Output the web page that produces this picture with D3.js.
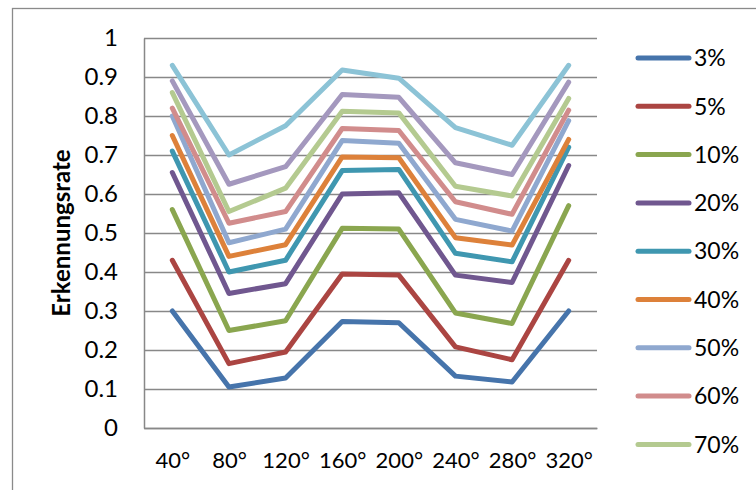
<!DOCTYPE html>
<html>
<head>
<meta charset="utf-8">
<script src="https://cdn.jsdelivr.net/npm/d3@7"></script>
<style>
  body { margin: 0; background: #fff; }
  text { font-family: Lato, "Liberation Sans", sans-serif; fill: #000; }
</style>
</head>
<body>
<script>
//Categories (x axis)
const angles = ["40°", "80°", "120°", "160°", "200°", "240°", "280°", "320°"];
const yTicks = [0, 0.1, 0.2, 0.3, 0.4, 0.5, 0.6, 0.7, 0.8, 0.9, 1];

//Series names
const rateNames = ["3%", "5%", "10%", "20%", "30%", "40%", "50%", "60%", "70%", "80%", "90%"];

//Series values, one per name
const rate3  = [0.30, 0.105, 0.128, 0.273, 0.270, 0.133, 0.118, 0.30];
const rate5  = [0.43, 0.165, 0.195, 0.395, 0.392, 0.208, 0.175, 0.43];
const rate10 = [0.56, 0.250, 0.275, 0.512, 0.510, 0.295, 0.268, 0.57];
const rate20 = [0.655, 0.345, 0.370, 0.600, 0.603, 0.392, 0.373, 0.673];
const rate30 = [0.71, 0.400, 0.430, 0.660, 0.663, 0.448, 0.426, 0.72];
const rate40 = [0.75, 0.440, 0.470, 0.695, 0.693, 0.488, 0.469, 0.74];
const rate50 = [0.80, 0.475, 0.510, 0.737, 0.730, 0.535, 0.505, 0.788];
const rate60 = [0.82, 0.525, 0.555, 0.768, 0.763, 0.580, 0.548, 0.815];
const rate70 = [0.86, 0.555, 0.615, 0.812, 0.808, 0.620, 0.595, 0.845];
const rate80 = [0.89, 0.625, 0.670, 0.855, 0.848, 0.680, 0.650, 0.887];
const rate90 = [0.93, 0.700, 0.775, 0.918, 0.897, 0.770, 0.725, 0.93];

const colors = ["#4674ab", "#ab4542", "#8aa64f", "#70578f", "#3f97b0", "#dd813a",
                "#8fa8cf", "#d18c8c", "#b4ca90", "#a498be", "#8cc3d6"];

const series = [rate3, rate5, rate10, rate20, rate30, rate40, rate50, rate60, rate70, rate80, rate90]
  .map((values, i) => ({name: rateNames[i], color: colors[i], values: values}));

//Plot area
const margin = {top: 38, right: 159, bottom: 62, left: 144};
const width = 756 - margin.left - margin.right;
const height = 490 - margin.top - margin.bottom;

const svg = d3.select("body")
              .append("svg")
              .attr("width", 756)
              .attr("height", 490);

//Chart frame (runs off the right and bottom edge)
svg.append("rect")
   .attr("x", 12.5)
   .attr("y", 8.5)
   .attr("width", 900)
   .attr("height", 600)
   .attr("fill", "#fff")
   .attr("stroke", "#8a8a8a")
   .attr("stroke-width", 1.3);

const chartGroup = svg.append("g")
                      .attr("transform", `translate(${margin.left},${margin.top})`);

//Scales
const xScale = d3.scalePoint()
                 .domain(angles)
                 .range([0, width])
                 .padding(0.5);

const yScale = d3.scaleLinear()
                 .domain([0, 1])
                 .range([height, 0]);

//Gridlines
const yGrid = d3.axisLeft(yScale)
                .tickValues(yTicks)
                .tickSize(-width)
                .tickFormat("");

chartGroup.append("g")
          .attr("class", "grid")
          .call(yGrid)
          .call(g => g.select(".domain").remove())
          .call(g => g.selectAll("line").attr("stroke", "#888").attr("stroke-width", 1.5));

//Y axis
const yAxis = d3.axisLeft(yScale)
                .tickValues(yTicks)
                .tickSize(0)
                .tickPadding(26)
                .tickFormat(d => d3.format("")(+d.toFixed(1)));

chartGroup.append("g")
          .attr("id", "y-axis")
          .call(yAxis)
          .call(g => g.select(".domain").attr("stroke", "#888").attr("stroke-width", 1.5))
          .call(g => g.selectAll("text").style("font-size", "24px").attr("fill", "#000"));

//X axis
const xAxis = d3.axisBottom(xScale)
                .tickSize(0)
                .tickPadding(24);

chartGroup.append("g")
          .attr("id", "x-axis")
          .attr("transform", `translate(0,${height})`)
          .call(xAxis)
          .call(g => g.select(".domain").attr("stroke", "#888").attr("stroke-width", 1.5))
          .call(g => g.selectAll("text").style("font-size", "22px").attr("fill", "#000"));

//Y title
svg.append("text")
   .attr("transform", `translate(70,${margin.top + height / 2}) rotate(-90)`)
   .attr("text-anchor", "middle")
   .style("font-size", "24px")
   .style("font-weight", "bold")
   .text("Erkennungsrate");

//Lines
const line = d3.line()
               .x((d, i) => xScale(angles[i]))
               .y(d => yScale(d));

chartGroup.append("g")
          .selectAll("path")
          .data(series)
          .enter().append("path")
          .attr("d", d => line(d.values))
          .attr("fill", "none")
          .attr("stroke", d => d.color)
          .attr("stroke-width", 5)
          .attr("stroke-linejoin", "round")
          .attr("stroke-linecap", "round");

//Legend (cut off after 70% in the original)
const legendY = d3.scalePoint()
                  .domain(rateNames)
                  .range([58, 58 + 48.3 * 10]);

const legend = svg.append("g")
                  .attr("id", "legend")
                  .selectAll("g")
                  .data(series.slice(0, 9))
                  .enter().append("g")
                  .attr("transform", d => `translate(638,${legendY(d.name)})`);

legend.append("line")
      .attr("x1", 0)
      .attr("x2", 51)
      .attr("stroke", d => d.color)
      .attr("stroke-width", 5)
      .attr("stroke-linecap", "round");

legend.append("text")
      .attr("x", 56)
      .attr("dy", "0.36em")
      .style("font-size", "23px")
      .text(d => d.name);
</script>
</body>
</html>
